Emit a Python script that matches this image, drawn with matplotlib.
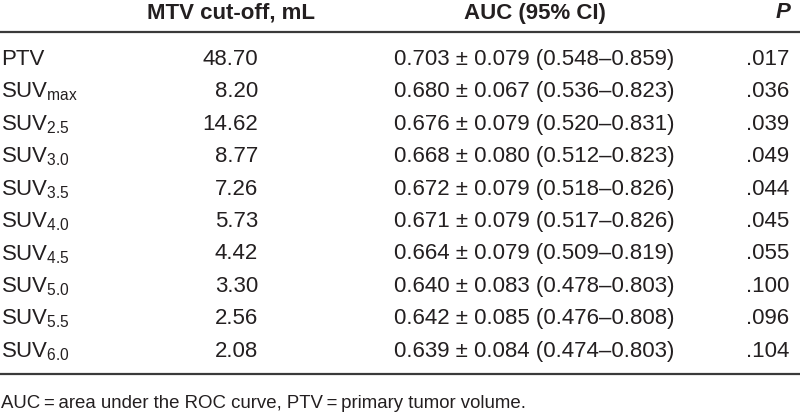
import matplotlib
matplotlib.use("Agg")
import matplotlib.pyplot as plt

plt.rcParams["font.family"] = ["Liberation Sans", "DejaVu Sans"]
plt.rcParams["mathtext.fontset"] = "custom"
plt.rcParams["mathtext.rm"] = "Liberation Sans"
plt.rcParams["mathtext.it"] = "Liberation Sans:italic"

# Table data
headers = ["MTV cut-off, mL", "AUC (95% CI)", "P"]
row_labels = ["PTV", "SUV$_{\\mathrm{max}}$", "SUV$_{\\mathrm{2.5}}$", "SUV$_{\\mathrm{3.0}}$",
              "SUV$_{\\mathrm{3.5}}$", "SUV$_{\\mathrm{4.0}}$", "SUV$_{\\mathrm{4.5}}$",
              "SUV$_{\\mathrm{5.0}}$", "SUV$_{\\mathrm{5.5}}$", "SUV$_{\\mathrm{6.0}}$"]
mtv_cutoff = ["48.70", "8.20", "14.62", "8.77", "7.26", "5.73", "4.42", "3.30", "2.56", "2.08"]
auc = ["0.703", "0.680", "0.676", "0.668", "0.672", "0.671", "0.664", "0.640", "0.642", "0.639"]
auc_se = ["0.079", "0.067", "0.079", "0.080", "0.079", "0.079", "0.079", "0.083", "0.085", "0.084"]
ci_low = ["0.548", "0.536", "0.520", "0.512", "0.518", "0.517", "0.509", "0.478", "0.476", "0.474"]
ci_high = ["0.859", "0.823", "0.831", "0.823", "0.826", "0.826", "0.819", "0.803", "0.808", "0.803"]
p_values = [".017", ".036", ".039", ".049", ".044", ".045", ".055", ".100", ".096", ".104"]
footnote = "AUC\u2009=\u2009area under the ROC curve, PTV\u2009=\u2009primary tumor volume."

fig = plt.figure(figsize=(8, 4.13), dpi=100)
ax = fig.add_axes([0, 0, 1, 1])
ax.set_xlim(0, 800)
ax.set_ylim(413, 0)
ax.axis("off")

txt = "#231f20"
fs = 16

# header
ax.text(231, 13, headers[0], ha="center", va="center", fontsize=fs, fontweight="bold", color=txt)
ax.text(535, 13, headers[1], ha="center", va="center", fontsize=fs, fontweight="bold", color=txt)
ax.text(790, 13, headers[2], ha="right", va="center", fontsize=fs, fontweight="bold",
        fontstyle="italic", color=txt)
ax.plot([0, 800], [32, 32], color="#3a3a3a", lw=1.6, solid_capstyle="butt")

y0, dy = 57, 32.4
for i, lab in enumerate(row_labels):
    y = y0 + i * dy
    ax.text(1, y, lab, ha="left", va="center_baseline", fontsize=fs, color=txt)
    ax.text(258, y, mtv_cutoff[i], ha="right", va="center_baseline", fontsize=fs, color=txt)
    ax.text(394, y, f"{auc[i]} \u00b1 {auc_se[i]} ({ci_low[i]}\u2013{ci_high[i]})",
            ha="left", va="center_baseline", fontsize=fs, color=txt)
    ax.text(789, y, p_values[i], ha="right", va="center_baseline", fontsize=fs, color=txt)

ax.plot([0, 800], [374, 374], color="#3a3a3a", lw=1.6, solid_capstyle="butt")
ax.text(1, 402, footnote, ha="left", va="center_baseline", fontsize=13.4, color=txt)

fig.savefig("out.png", dpi=100)
